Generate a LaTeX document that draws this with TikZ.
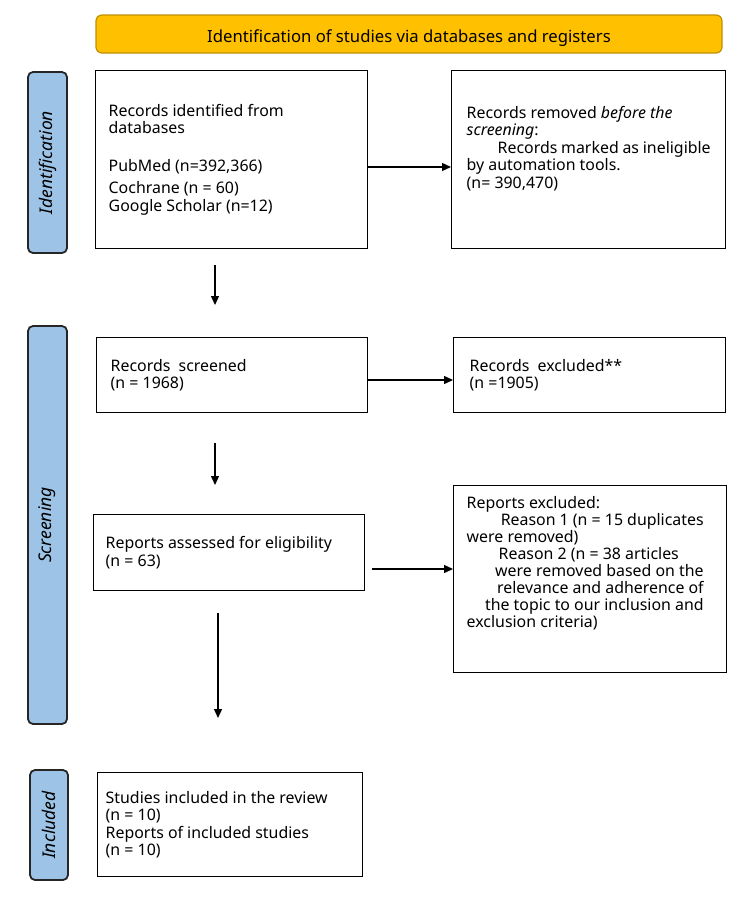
\documentclass[tikz,border=0pt]{standalone}
\usepackage{fontspec}
\setmainfont{Noto Sans}
\usetikzlibrary{arrows.meta}
\definecolor{bannerfill}{HTML}{FFC000}
\definecolor{bannerdraw}{HTML}{BF9000}
\definecolor{sidefill}{HTML}{9DC3E6}
\tikzset{
  flowbox/.style={draw=black, line width=1.4pt, fill=white, anchor=north west, inner ysep=0pt,
    font=\fontsize{15.9}{17.5}\selectfont},
  sidelabel/.style={draw=black!85, line width=1.8pt, fill=sidefill, rounded corners=5pt,
    rotate=90, inner sep=0pt, font=\fontsize{17.5}{20}\selectfont\itshape},
  banner/.style={draw=bannerdraw, line width=1.2pt, fill=bannerfill, rounded corners=6pt,
    inner sep=0pt, font=\fontsize{16.7}{20}\selectfont},
  arr/.style={line width=1.4pt, -{Triangle[length=9pt,width=8pt]}}
}
\begin{document}
\begin{tikzpicture}[x=1pt,y=-1pt]
\useasboundingbox (0,0) rectangle (750,902);

\node[banner, minimum width=626pt, minimum height=38pt] (ban) at (409,34)
  {\raisebox{-8.5pt}[0pt][0pt]{Identification of studies via databases and registers}};

\node[sidelabel, minimum width=181pt, minimum height=39pt] (sid) at (47.5,162.5) {Identification};
\node[sidelabel, minimum width=398pt, minimum height=39pt] (sscr) at (47.5,525) {Screening};
\node[sidelabel, minimum width=110pt, minimum height=38pt] (sinc) at (49,825) {Included};

% Identification row
\node[flowbox, inner xsep=13pt] (b1) at (95,70)
  {\parbox[c][178pt][c]{246pt}{Records identified from\\databases\\[20pt]PubMed (n=392,366)\\[5pt]Cochrane (n = 60)\\Google Scholar (n=12)}};
\node[flowbox, inner xsep=15pt] (b2) at (451,70)
  {\parbox[c][178pt][t]{244pt}{\vspace*{35.5pt}Records removed \textit{before the}\\\textit{screening}:\\\hspace*{31pt}Records marked as ineligible\\by automation tools.\\(n= 390,470)}};

% Screening rows
\node[flowbox, inner xsep=14pt] (b3) at (96,337)
  {\parbox[c][75pt][c]{243pt}{Records\ \ screened\\(n = 1968)}};
\node[flowbox, inner xsep=16pt] (b4) at (453,337)
  {\parbox[c][75pt][c]{240pt}{Records\ \ excluded**\\(n =1905)}};
\node[flowbox, inner xsep=12pt] (b5) at (93,514)
  {\parbox[c][76pt][c]{247pt}{Reports assessed for eligibility\\(n = 63)}};
\node[flowbox, inner xsep=13pt, font=\fontsize{15.9}{17}\selectfont] (b6) at (453,485)
  {\parbox[c][187pt][t]{247pt}{\vspace*{11pt}Reports excluded:\\
   \hspace*{\fill}Reason 1 (n = 15 duplicates\hspace*{10pt}\\
   were removed)\\
   \hspace*{32pt}Reason 2 (n = 38 articles\\
   \hspace*{\fill}were removed based on the\hspace*{10pt}\\
   \hspace*{\fill}relevance and adherence of\hspace*{10pt}\\
   \hspace*{\fill}the topic to our inclusion and\hspace*{10pt}\\
   exclusion criteria)}};

% Included
\node[flowbox, inner xsep=8pt] (b7) at (97,772)
  {\parbox[c][104pt][c]{249pt}{Studies included in the review\\(n = 10)\\Reports of included studies\\(n = 10)}};

% connectors
\coordinate (y1) at (0,167);
\coordinate (y2) at (0,380);
\coordinate (y3) at (0,569);
\coordinate (d1s) at (215,265);
\coordinate (d1e) at (215,305);
\coordinate (d2s) at (215,443);
\coordinate (d2e) at (215,485);
\coordinate (a3s) at (372,569);
\coordinate (d3s) at (218,613);
\coordinate (d3e) at (218,718);

\draw[arr] (b1.east |- y1) -- (b2.west |- y1);
\draw[arr] (b3.east |- y2) -- (b4.west |- y2);
\draw[arr] (a3s) -- (b6.west |- y3);
\draw[arr] (d1s) -- (d1e);
\draw[arr] (d2s) -- (d2e);
\draw[arr] (d3s) -- (d3e);
\end{tikzpicture}
\end{document}
